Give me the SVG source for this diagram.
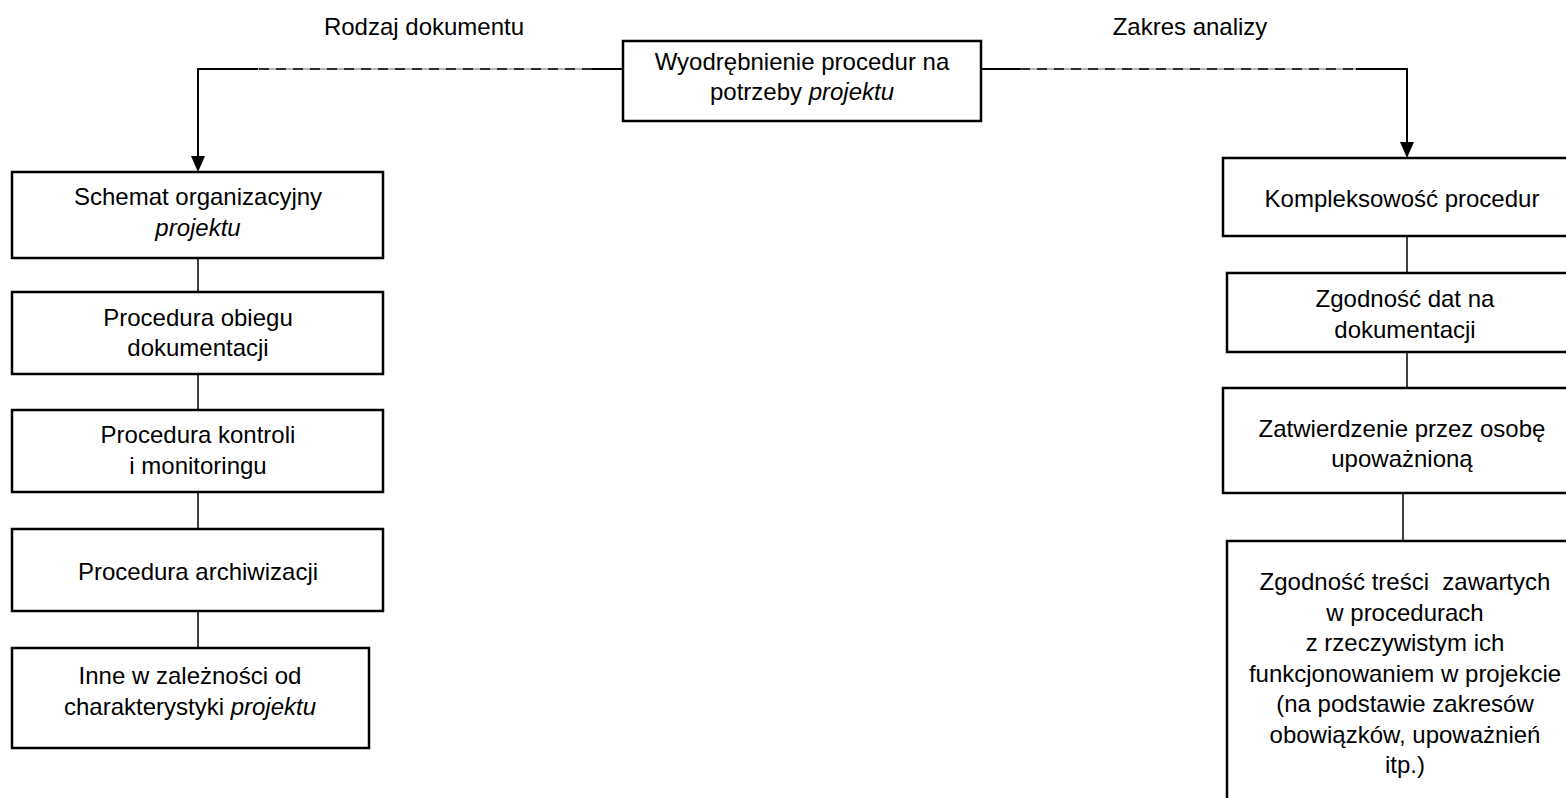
<svg xmlns="http://www.w3.org/2000/svg" width="1566" height="798" viewBox="0 0 1566 798">
  <style>
    .box { fill: #ffffff; stroke: #000000; stroke-width: 2.5; }
    .txt { font-family: "Liberation Sans", Arial, sans-serif; font-size: 24px; fill: #000000; text-anchor: middle; }
    .lbl { font-family: "Liberation Sans", Arial, sans-serif; font-size: 24px; fill: #000000; text-anchor: middle; }
    .ln { fill: none; stroke: #000000; stroke-width: 2; }
    .thin { fill: none; stroke: #000000; stroke-width: 1.5; }
    .dash-base { fill: none; stroke: #9a9a9a; stroke-width: 1.5; }
    .dash { fill: none; stroke: #000000; stroke-width: 1.5; stroke-dasharray: 10 7; }
    .it { font-style: italic; }
    .pre { white-space: pre; }
  </style>

  <rect width="1566" height="798" fill="#ffffff"/>

  <!-- branch labels -->
  <text class="lbl" x="424" y="35">Rodzaj dokumentu</text>
  <text class="lbl" x="1190" y="35">Zakres analizy</text>

  <!-- connectors -->
  <g id="connectors">
    <!-- left branch -->
    <path class="ln" d="M623,69 H592"/>
    <path class="dash-base" d="M592,69 H258"/>
    <path class="dash" d="M592,69 H258"/>
    <path class="ln" d="M258,69 H198 V158"/>
    <path d="M191,156 L205,156 L198,172 Z" fill="#000000"/>
    <!-- right branch -->
    <path class="ln" d="M981,69 H1020"/>
    <path class="dash-base" d="M1020,69 H1356"/>
    <path class="dash" d="M1020,69 H1356"/>
    <path class="ln" d="M1356,69 H1407 V144"/>
    <path d="M1400,142 L1414,142 L1407,158 Z" fill="#000000"/>
    <!-- left column links -->
    <path class="thin" d="M198,258 V292"/>
    <path class="thin" d="M198,374 V410"/>
    <path class="thin" d="M198,492 V529"/>
    <path class="thin" d="M198,611 V648"/>
    <!-- right column links -->
    <path class="thin" d="M1407,236 V273"/>
    <path class="thin" d="M1407,352 V388"/>
    <path class="thin" d="M1403,493 V541"/>
  </g>

  <!-- root node -->
  <g id="root">
    <rect class="box" x="623" y="41" width="358" height="80"/>
    <text class="txt" x="802" y="70">Wyodrębnienie procedur na</text>
    <text class="txt" x="802" y="100">potrzeby <tspan class="it">projektu</tspan></text>
  </g>

  <!-- left column: document types -->
  <g id="schemat">
    <rect class="box" x="12" y="172" width="371" height="86"/>
    <text class="txt" x="198" y="205">Schemat organizacyjny</text>
    <text class="txt it" x="198" y="236">projektu</text>
  </g>
  <g id="obieg">
    <rect class="box" x="12" y="292" width="371" height="82"/>
    <text class="txt" x="198" y="326">Procedura obiegu</text>
    <text class="txt" x="198" y="356">dokumentacji</text>
  </g>
  <g id="kontrola">
    <rect class="box" x="12" y="410" width="371" height="82"/>
    <text class="txt" x="198" y="443">Procedura kontroli</text>
    <text class="txt" x="198" y="474">i monitoringu</text>
  </g>
  <g id="archiwizacja">
    <rect class="box" x="12" y="529" width="371" height="82"/>
    <text class="txt" x="198" y="580">Procedura archiwizacji</text>
  </g>
  <g id="inne">
    <rect class="box" x="12" y="648" width="357" height="100"/>
    <text class="txt" x="190" y="684">Inne w zależności od</text>
    <text class="txt" x="190" y="715">charakterystyki <tspan class="it">projektu</tspan></text>
  </g>

  <!-- right column: scope of analysis -->
  <g id="kompleksowosc">
    <rect class="box" x="1223" y="158" width="360" height="78"/>
    <text class="txt" x="1402" y="207">Kompleksowość procedur</text>
  </g>
  <g id="zgodnosc-dat">
    <rect class="box" x="1227" y="273" width="356" height="79"/>
    <text class="txt" x="1405" y="307">Zgodność dat na</text>
    <text class="txt" x="1405" y="338">dokumentacji</text>
  </g>
  <g id="zatwierdzenie">
    <rect class="box" x="1223" y="388" width="360" height="105"/>
    <text class="txt" x="1402" y="437">Zatwierdzenie przez osobę</text>
    <text class="txt" x="1402" y="467">upoważnioną</text>
  </g>
  <g id="zgodnosc-tresci">
    <rect class="box" x="1227" y="541" width="356" height="280"/>
    <text class="txt pre" x="1405" y="590">Zgodność treści  zawartych</text>
    <text class="txt" x="1405" y="621">w procedurach</text>
    <text class="txt" x="1405" y="651">z rzeczywistym ich</text>
    <text class="txt" x="1405" y="682">funkcjonowaniem w projekcie</text>
    <text class="txt" x="1405" y="712">(na podstawie zakresów</text>
    <text class="txt" x="1405" y="743">obowiązków, upoważnień</text>
    <text class="txt" x="1405" y="773">itp.)</text>
  </g>
</svg>
